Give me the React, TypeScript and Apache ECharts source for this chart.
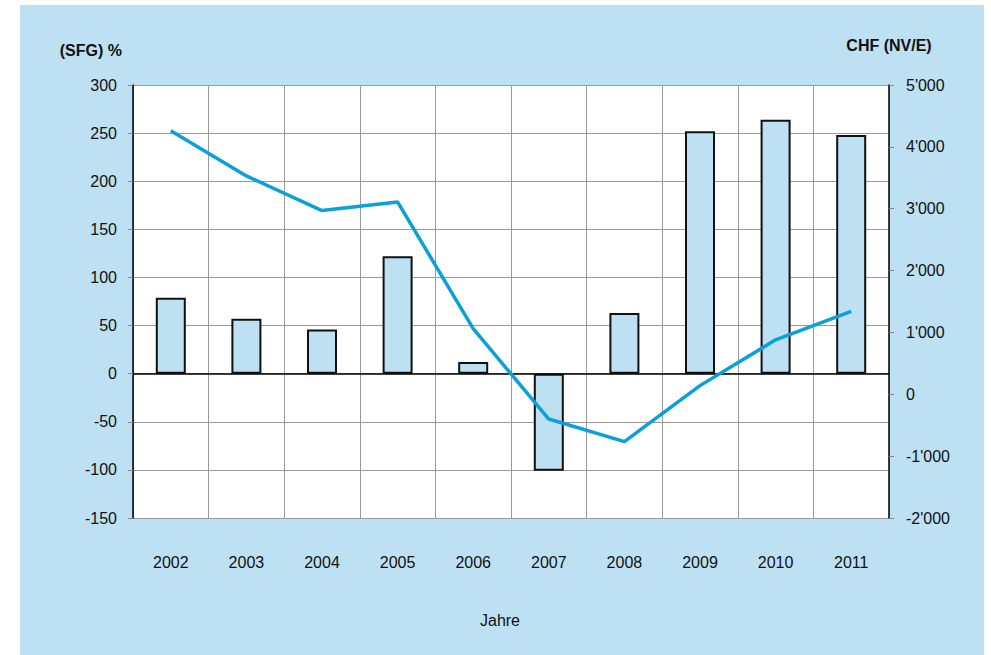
import React, { useEffect, useRef } from "react";
import * as echarts from "echarts";

const years = ["2002", "2003", "2004", "2005", "2006", "2007", "2008", "2009", "2010", "2011"];
const sfgPercent = [79, 57, 46, 122, 12, -101, 63, 252, 264, 248];
const chfNvE = [4260, 3530, 2970, 3110, 1060, -400, -765, 140, 880, 1340];

const leftTitle = "(SFG) %";
const rightTitle = "CHF (NV/E)";
const xTitle = "Jahre";

const BG = "#BEE0F3";
const FONT = "'Liberation Sans', Arial, sans-serif";

function fmtThousands(v: number): string {
  const neg = v < 0;
  const s = String(Math.abs(v)).replace(/\B(?=(\d{3})+(?!\d))/g, "'");
  return (neg ? "-" : "") + s;
}

export default function App() {
  const ref = useRef<HTMLDivElement>(null);

  useEffect(() => {
    if (!ref.current) return;
    const chart = echarts.init(ref.current, null, { renderer: "svg" });
    chart.setOption({
      animation: false,
      textStyle: { fontFamily: FONT },
      grid: {
        left: 133,
        top: 85,
        width: 756,
        height: 433,
        show: true,
        backgroundColor: "#FFFFFF",
        borderWidth: 0,
      },
      xAxis: {
        type: "category",
        data: years,
        boundaryGap: true,
        name: xTitle,
        nameLocation: "middle",
        nameGap: 94,
        nameTextStyle: { fontSize: 16, color: "#111", fontFamily: FONT, padding: [0, 22, 0, 0] },
        axisLine: { show: false, onZero: false },
        axisTick: { show: false },
        axisLabel: { fontSize: 16, color: "#111", margin: 36, fontFamily: FONT },
        splitLine: { show: true, lineStyle: { color: "#9A9A9A", width: 1 } },
      },
      yAxis: [
        {
          type: "value",
          min: -150,
          max: 300,
          interval: 50,
          position: "left",
          name: leftTitle,
          nameLocation: "end",
          nameGap: 27,
          nameTextStyle: {
            fontSize: 16,
            fontWeight: "bold",
            color: "#111",
            fontFamily: FONT,
            align: "right",
            padding: [0, 11, 0, 0],
          },
          axisLine: { show: true, onZero: false, lineStyle: { color: "#000", width: 1.5 } },
          axisTick: { show: true, inside: false, length: 5, lineStyle: { color: "#888" } },
          axisLabel: { fontSize: 16, color: "#111", margin: 16, fontFamily: FONT },
          splitLine: { show: true, lineStyle: { color: "#9A9A9A", width: 1 } },
        },
        {
          type: "value",
          min: -2000,
          max: 5000,
          interval: 1000,
          position: "right",
          name: rightTitle,
          nameLocation: "end",
          nameGap: 32,
          nameTextStyle: {
            fontSize: 16,
            fontWeight: "bold",
            color: "#111",
            fontFamily: FONT,
            align: "center",
          },
          axisLine: { show: true, onZero: false, lineStyle: { color: "#000", width: 1.5 } },
          axisTick: { show: true, inside: false, length: 5, lineStyle: { color: "#888" } },
          axisLabel: {
            fontSize: 16,
            color: "#111",
            margin: 17,
            fontFamily: FONT,
            formatter: (v: number) => fmtThousands(v),
          },
          splitLine: { show: false },
        },
      ],
      series: [
        {
          type: "bar",
          data: sfgPercent,
          yAxisIndex: 0,
          barWidth: 30,
          itemStyle: { color: BG, borderColor: "#111", borderWidth: 2 },
          markLine: {
            silent: true,
            symbol: "none",
            label: { show: false },
            lineStyle: { color: "#000", width: 1.5, type: "solid" },
            data: [{ yAxis: 0 }],
          },
          z: 2,
        },
        {
          type: "line",
          data: chfNvE,
          yAxisIndex: 1,
          symbol: "none",
          lineStyle: { color: "#0BA0DA", width: 3.5 },
          itemStyle: { color: "#0BA0DA" },
          z: 5,
        },
      ],
    });
    return () => chart.dispose();
  }, []);

  return (
    <div style={{ position: "fixed", left: 0, top: 0, width: 991, height: 655, background: "#FFFFFF" }}>
      <div style={{ position: "absolute", left: 20, top: 5, width: 964, height: 650, background: BG }} />
      <div ref={ref} style={{ position: "absolute", left: 0, top: 0, width: 991, height: 655 }} />
    </div>
  );
}
